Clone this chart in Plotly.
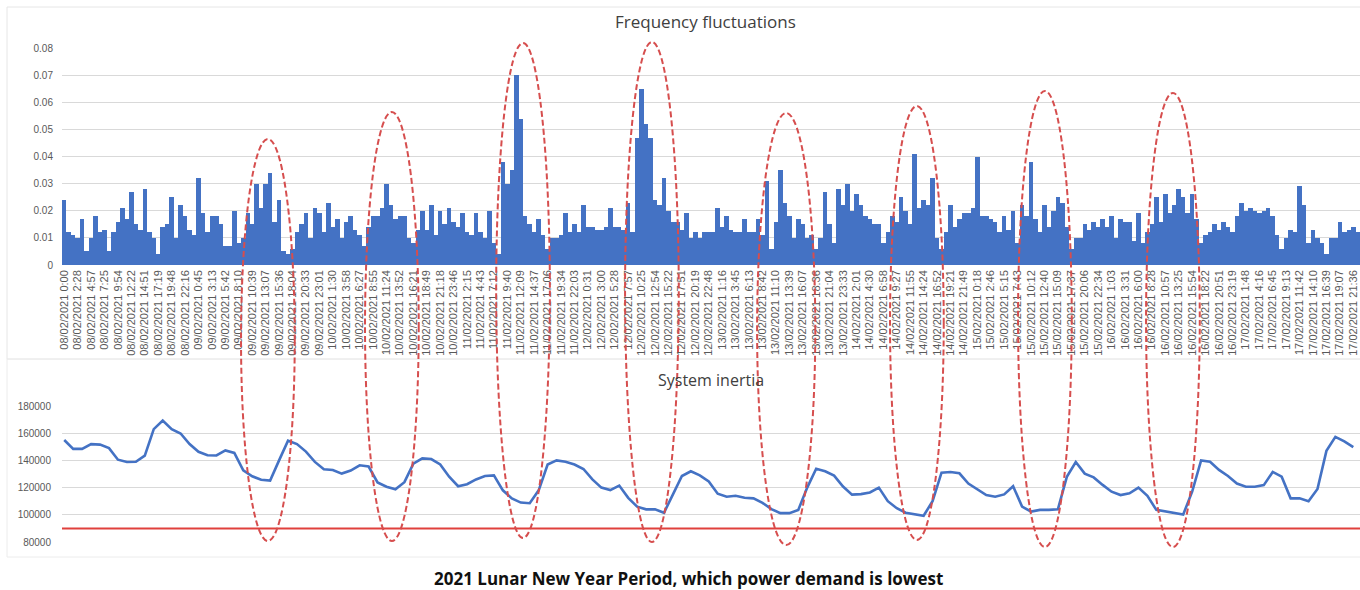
import plotly.graph_objects as go

# ---------------- data ----------------
FREQ_DEV = [
    0.024, 0.012, 0.011, 0.010, 0.017, 0.005, 0.010, 0.018, 0.012, 0.013,
    0.005, 0.012, 0.016, 0.021, 0.017, 0.027, 0.015, 0.013, 0.028, 0.012,
    0.010, 0.004, 0.014, 0.015, 0.025, 0.010, 0.022, 0.018, 0.013, 0.011,
    0.032, 0.019, 0.012, 0.018, 0.018, 0.015, 0.007, 0.007, 0.020, 0.008,
    0.010, 0.019, 0.015, 0.030, 0.021, 0.030, 0.034, 0.016, 0.024, 0.005,
    0.004, 0.006, 0.012, 0.015, 0.019, 0.010, 0.021, 0.019, 0.012, 0.023,
    0.014, 0.017, 0.010, 0.016, 0.018, 0.013, 0.011, 0.007, 0.014, 0.018,
    0.018, 0.021, 0.030, 0.022, 0.017, 0.018, 0.018, 0.010, 0.008, 0.013,
    0.020, 0.013, 0.022, 0.011, 0.020, 0.015, 0.021, 0.016, 0.014, 0.019,
    0.012, 0.011, 0.019, 0.012, 0.010, 0.020, 0.008, 0.004, 0.038, 0.030,
    0.035, 0.070, 0.054, 0.018, 0.015, 0.012, 0.017, 0.011, 0.006, 0.010,
    0.010, 0.011, 0.019, 0.012, 0.015, 0.012, 0.022, 0.014, 0.014, 0.013,
    0.013, 0.014, 0.021, 0.014, 0.014, 0.013, 0.023, 0.012, 0.047, 0.065,
    0.052, 0.047, 0.024, 0.022, 0.032, 0.020, 0.016, 0.016, 0.013, 0.019,
    0.010, 0.012, 0.010, 0.012, 0.012, 0.012, 0.021, 0.014, 0.018, 0.013,
    0.012, 0.012, 0.017, 0.012, 0.012, 0.017, 0.011, 0.031, 0.006, 0.016,
    0.035, 0.023, 0.018, 0.010, 0.017, 0.015, 0.010, 0.011, 0.006, 0.010,
    0.027, 0.015, 0.008, 0.028, 0.022, 0.030, 0.020, 0.026, 0.022, 0.018,
    0.017, 0.015, 0.015, 0.008, 0.012, 0.018, 0.016, 0.025, 0.020, 0.015,
    0.041, 0.021, 0.024, 0.022, 0.032, 0.010, 0.006, 0.012, 0.022, 0.014,
    0.017, 0.019, 0.019, 0.021, 0.040, 0.018, 0.018, 0.017, 0.016, 0.012,
    0.018, 0.013, 0.020, 0.008, 0.022, 0.018, 0.038, 0.017, 0.012, 0.022,
    0.014, 0.020, 0.025, 0.023, 0.014, 0.006, 0.010, 0.010, 0.015, 0.013,
    0.016, 0.014, 0.017, 0.014, 0.018, 0.010, 0.017, 0.016, 0.016, 0.009,
    0.019, 0.008, 0.012, 0.015, 0.025, 0.016, 0.026, 0.019, 0.022, 0.028,
    0.025, 0.019, 0.026, 0.017, 0.008, 0.011, 0.012, 0.015, 0.013, 0.016,
    0.014, 0.012, 0.018, 0.023, 0.020, 0.021, 0.020, 0.019, 0.020, 0.021,
    0.018, 0.011, 0.006, 0.010, 0.013, 0.012, 0.029, 0.022, 0.008, 0.013,
    0.010, 0.008, 0.004, 0.010, 0.010, 0.016, 0.012, 0.013, 0.014, 0.012,
]

# system inertia, sampled at every second time step
INERTIA = [
    155000, 148500, 148500, 152000, 151600, 149000, 140500, 138800, 139000, 143500,
    163000, 169300, 163000, 159800, 152000, 146300, 143800, 143600, 147300, 145500,
    132700, 128300, 125800, 125200, 140000, 154500, 152000, 146500, 138900, 133500,
    132900, 130300, 132500, 136400, 135500, 123800, 120600, 118800, 124000, 137600,
    141500, 141000, 137000, 128000, 121000, 122500, 126000, 128500, 129000, 118000,
    112000, 109000, 108500, 118000, 137000, 140000, 139000, 137000, 133700, 126000,
    120000, 118200, 121500, 112500, 106000, 104000, 104000, 101500, 115000, 128500,
    132000, 129000, 124500, 115500, 113300, 114000, 112500, 112100, 108800, 104200,
    101200, 101200, 103600, 120000, 133900, 132000, 128800, 120800, 114800, 115200,
    116400, 120000, 110000, 104800, 101500, 100500, 99300, 110000, 131000, 131500,
    130500, 123000, 118500, 114500, 113300, 115000, 121000, 106000, 102400, 103600,
    103600, 104000, 127900, 138800, 130300, 127500, 122000, 117000, 114500, 115800,
    120000, 114000, 103600, 102400, 101500, 100200, 117000, 140000, 139000, 133000,
    128500, 123000, 120600, 120600, 121800, 131500, 128000, 112100, 112100, 110000,
    119000, 147000, 157300, 154000, 149700,
]

INERTIA_LIMIT = 90000

TIME_LABELS = [
    "08/02/2021 0:00", "08/02/2021 2:28", "08/02/2021 4:57", "08/02/2021 7:25", "08/02/2021 9:54",
    "08/02/2021 12:22", "08/02/2021 14:51", "08/02/2021 17:19", "08/02/2021 19:48", "08/02/2021 22:16",
    "09/02/2021 0:45", "09/02/2021 3:13", "09/02/2021 5:42", "09/02/2021 8:10", "09/02/2021 10:39",
    "09/02/2021 13:07", "09/02/2021 15:36", "09/02/2021 18:04", "09/02/2021 20:33", "09/02/2021 23:01",
    "10/02/2021 1:30", "10/02/2021 3:58", "10/02/2021 6:27", "10/02/2021 8:55", "10/02/2021 11:24",
    "10/02/2021 13:52", "10/02/2021 16:21", "10/02/2021 18:49", "10/02/2021 21:18", "10/02/2021 23:46",
    "11/02/2021 2:15", "11/02/2021 4:43", "11/02/2021 7:12", "11/02/2021 9:40", "11/02/2021 12:09",
    "11/02/2021 14:37", "11/02/2021 17:06", "11/02/2021 19:34", "11/02/2021 22:03",
    "12/02/2021 0:31", "12/02/2021 3:00", "12/02/2021 5:28", "12/02/2021 7:57", "12/02/2021 10:25",
    "12/02/2021 12:54", "12/02/2021 15:22", "12/02/2021 17:51", "12/02/2021 20:19", "12/02/2021 22:48",
    "13/02/2021 1:16", "13/02/2021 3:45", "13/02/2021 6:13", "13/02/2021 8:42", "13/02/2021 11:10",
    "13/02/2021 13:39", "13/02/2021 16:07", "13/02/2021 18:36", "13/02/2021 21:04", "13/02/2021 23:33",
    "14/02/2021 2:01", "14/02/2021 4:30", "14/02/2021 6:58", "14/02/2021 9:27", "14/02/2021 11:55",
    "14/02/2021 14:24", "14/02/2021 16:52", "14/02/2021 19:21", "14/02/2021 21:49",
    "15/02/2021 0:18", "15/02/2021 2:46", "15/02/2021 5:15", "15/02/2021 7:43", "15/02/2021 10:12",
    "15/02/2021 12:40", "15/02/2021 15:09", "15/02/2021 17:37", "15/02/2021 20:06", "15/02/2021 22:34",
    "16/02/2021 1:03", "16/02/2021 3:31", "16/02/2021 6:00", "16/02/2021 8:28", "16/02/2021 10:57",
    "16/02/2021 13:25", "16/02/2021 15:54", "16/02/2021 18:22", "16/02/2021 20:51", "16/02/2021 23:19",
    "17/02/2021 1:48", "17/02/2021 4:16", "17/02/2021 6:45", "17/02/2021 9:13", "17/02/2021 11:42",
    "17/02/2021 14:10", "17/02/2021 16:39", "17/02/2021 19:07", "17/02/2021 21:36",
]

# low-demand periods highlighted (centre time step)
LOW_DEMAND_CENTRES = [45.5, 73.2, 102.5, 131.3, 161.3, 190.5, 219.1, 247.7]

# ---------------- layout / style ----------------
W, H = 1360, 590
LABEL_STEP = 3
ELL_HALF = [6.0, 6.0, 6.0, 6.0, 6.5, 6.0, 6.0, 6.0]
ELL_TOP_PX = [139, 112, 43, 42, 113, 106, 91, 93]
ELL_BOT_PX = [541, 541, 538, 542, 545, 540, 547, 547]

BLUE = "#4472c4"
GRID = "#d9d9d9"
TICK = "#595959"

x_bar = list(range(len(FREQ_DEV)))
x_inertia = list(range(0, 2 * len(INERTIA), 2))
tickvals = list(range(0, LABEL_STEP * len(TIME_LABELS), LABEL_STEP))

fig = go.Figure()
fig.add_trace(go.Bar(x=x_bar, y=FREQ_DEV, marker=dict(color=BLUE, line=dict(width=0)),
                     xaxis="x", yaxis="y", showlegend=False))
fig.add_trace(go.Scatter(x=x_inertia, y=INERTIA, mode="lines",
                         line=dict(color=BLUE, width=2.6),
                         xaxis="x2", yaxis="y2", showlegend=False))


def py(px):
    return 1 - px / H


xdom = [62 / W, 1.0]
xr = [-0.5, len(FREQ_DEV) - 0.5]

fig.update_layout(
    template="none",
    width=W, height=H,
    margin=dict(l=0, r=0, t=0, b=0, autoexpand=False),
    paper_bgcolor="white", plot_bgcolor="white",
    bargap=0,
    font=dict(family="Liberation Sans, Arial, sans-serif", color=TICK),
    xaxis=dict(domain=xdom, range=xr, tickmode="array", tickvals=tickvals,
               ticktext=TIME_LABELS, tickangle=-90, showgrid=False, zeroline=False,
               showline=False, ticks="", tickfont=dict(size=11, color=TICK),
               ticklabelstandoff=2, automargin=False, anchor="y"),
    yaxis=dict(domain=[py(265), py(48)], range=[0, 0.08], dtick=0.01,
               showgrid=True, gridcolor=GRID, gridwidth=1, zeroline=False,
               showline=False, ticks="", tickfont=dict(size=10, color=TICK),
               ticklabelstandoff=8, automargin=False, anchor="x"),
    xaxis2=dict(domain=xdom, range=xr, matches="x", showticklabels=False,
                showgrid=False, zeroline=False, showline=False, ticks="",
                automargin=False, anchor="y2"),
    yaxis2=dict(domain=[py(542), py(406)], range=[80000, 180000], dtick=20000,
                tickformat="d", showgrid=True, gridcolor=GRID, gridwidth=1,
                zeroline=False, showline=False, ticks="",
                tickfont=dict(size=10, color=TICK), ticklabelstandoff=10,
                automargin=False, anchor="x2"),
)

shapes = []
# panel borders
shapes.append(dict(type="rect", xref="paper", yref="paper", x0=7 / W, x1=1.01,
                   y0=py(359), y1=py(7), line=dict(color="#e6e6e6", width=1),
                   layer="below"))
shapes.append(dict(type="rect", xref="paper", yref="paper", x0=7 / W, x1=1.01,
                   y0=py(557), y1=py(359), line=dict(color="#ececec", width=1),
                   layer="below"))
# threshold line
shapes.append(dict(type="line", xref="x2 domain", yref="y2", x0=0, x1=1,
                   y0=INERTIA_LIMIT, y1=INERTIA_LIMIT,
                   line=dict(color="#e0403c", width=2), layer="above"))
# dashed ellipses
for c, hw, t, b in zip(LOW_DEMAND_CENTRES, ELL_HALF, ELL_TOP_PX, ELL_BOT_PX):
    shapes.append(dict(type="circle", xref="x", yref="paper",
                       x0=c - hw, x1=c + hw, y0=py(b), y1=py(t),
                       line=dict(color="rgb(214,78,78)", width=2, dash="6px,3px"),
                       layer="above"))
fig.update_layout(shapes=shapes)

fig.add_annotation(text="Frequency fluctuations", xref="paper", yref="paper",
                   x=705 / W, y=py(22), yanchor="middle", showarrow=False,
                   font=dict(family="Open Sans, sans-serif", size=17, color="#404040"))
fig.add_annotation(text="System inertia", xref="paper", yref="paper",
                   x=711 / W, y=py(380), yanchor="middle", showarrow=False,
                   font=dict(family="Open Sans, sans-serif", size=16, color="#404040"))
fig.add_annotation(text="<b>2021 Lunar New Year Period, which power demand is lowest</b>",
                   xref="paper", yref="paper", x=688 / W, y=py(578), yanchor="middle",
                   showarrow=False,
                   font=dict(family="Open Sans, sans-serif", size=17, color="#111111"))

fig.write_html(
    "out.html",
    config={"displayModeBar": False},
    post_script="document.body.style.margin='0';document.body.style.overflow='hidden';",
)
